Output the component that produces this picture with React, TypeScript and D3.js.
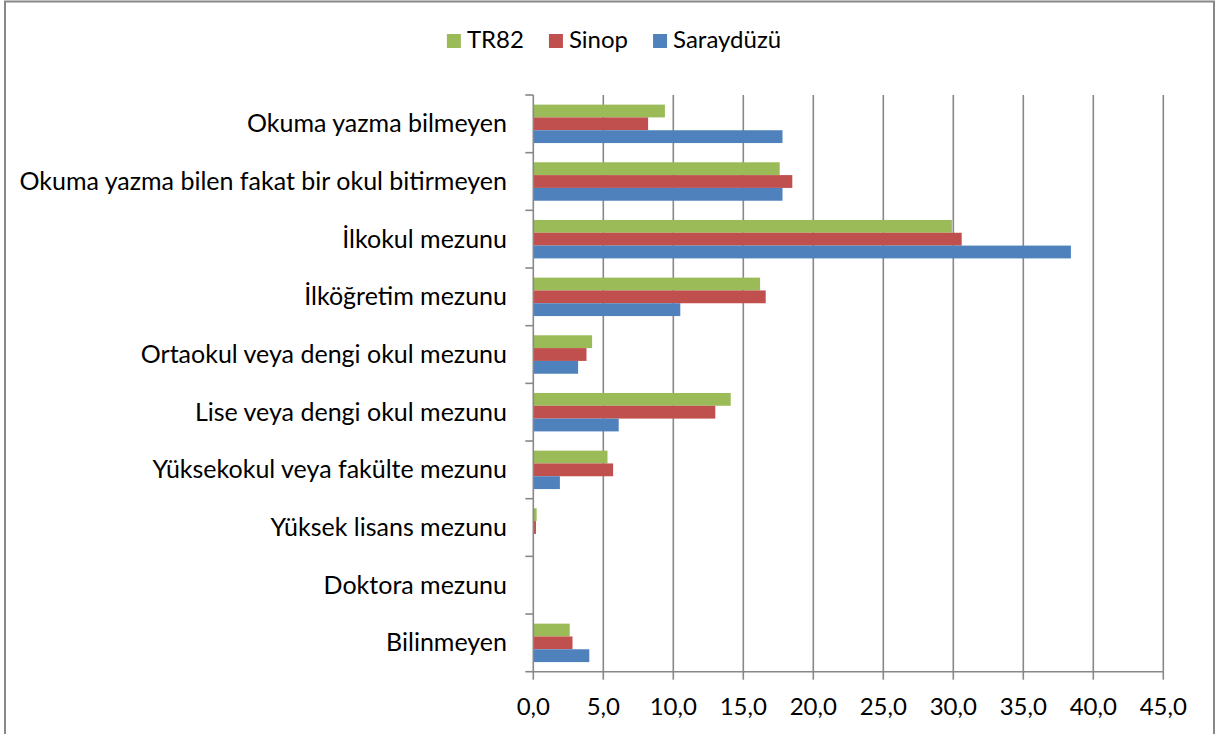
// @ts-nocheck
import React, { useEffect, useRef } from "react";
import * as d3 from "d3";

const categories = [
  "Okuma yazma bilmeyen",
  "Okuma yazma bilen fakat bir okul bitirmeyen",
  "İlkokul mezunu",
  "İlköğretim mezunu",
  "Ortaokul veya dengi okul mezunu",
  "Lise veya dengi okul mezunu",
  "Yüksekokul veya fakülte mezunu",
  "Yüksek lisans mezunu",
  "Doktora mezunu",
  "Bilinmeyen",
];

const seriesNames = ["TR82", "Sinop", "Saraydüzü"];
const seriesColors = ["#9BBB59", "#C0504D", "#4F81BD"];

const tr82 = [9.4, 17.6, 29.9, 16.2, 4.2, 14.1, 5.3, 0.24, 0.0, 2.6];
const sinop = [8.2, 18.5, 30.6, 16.6, 3.8, 13.0, 5.7, 0.19, 0.0, 2.8];
const saraydozu = [17.8, 17.8, 38.4, 10.5, 3.2, 6.1, 1.9, 0.0, 0.0, 4.0];

const xTicks = [0, 5, 10, 15, 20, 25, 30, 35, 40, 45];

const FONT = "Lato, 'Open Sans', sans-serif";

export default function App() {
  const svgRef = useRef(null);

  useEffect(() => {
    const svg = d3.select(svgRef.current);
    svg.selectAll("*").remove();

    const width = 1223;
    const height = 734;
    const margin = { top: 95, left: 533.3, right: 1163.3, bottom: 671.7 };
    const gridColor = "#888888";

    // chart frame
    svg.append("rect")
      .attr("x", 5)
      .attr("y", 1.5)
      .attr("width", 1209)
      .attr("height", 745)
      .attr("fill", "#fff")
      .attr("stroke", gridColor)
      .attr("stroke-width", 2);

    const x = d3.scaleLinear().domain([0, 45]).range([margin.left, margin.right]);
    const y = d3.scaleBand().domain(categories).range([margin.top, margin.bottom]).paddingInner(0).paddingOuter(0);
    const bw = y.bandwidth();
    // gap width 150%: three bars take 2/3 of each band
    const ySeries = d3.scaleBand().domain(seriesNames).range([bw / 6, (bw * 5) / 6]).padding(0);

    // vertical gridlines
    svg.append("g")
      .selectAll("line")
      .data(xTicks.slice(1))
      .join("line")
      .attr("x1", d => x(d))
      .attr("x2", d => x(d))
      .attr("y1", margin.top)
      .attr("y2", margin.bottom)
      .attr("stroke", gridColor)
      .attr("stroke-width", 1.6);

    // bars
    const values = [tr82, sinop, saraydozu];
    seriesNames.forEach((name, si) => {
      svg.append("g")
        .selectAll("rect")
        .data(categories.map((c, i) => ({ c, v: values[si][i] })))
        .join("rect")
        .attr("x", x(0))
        .attr("y", d => y(d.c) + ySeries(name))
        .attr("width", d => x(d.v) - x(0))
        .attr("height", ySeries.bandwidth())
        .attr("fill", seriesColors[si]);
    });

    // y axis
    const yAxis = svg.append("g");
    yAxis.append("line")
      .attr("x1", margin.left)
      .attr("x2", margin.left)
      .attr("y1", margin.top)
      .attr("y2", margin.bottom)
      .attr("stroke", gridColor)
      .attr("stroke-width", 1.6);
    const boundaries = categories.map(c => y(c)).concat([margin.bottom]);
    yAxis.selectAll(".tick")
      .data(boundaries)
      .join("line")
      .attr("x1", margin.left - 8)
      .attr("x2", margin.left)
      .attr("y1", d => d)
      .attr("y2", d => d)
      .attr("stroke", gridColor)
      .attr("stroke-width", 1.6);
    yAxis.selectAll("text")
      .data(categories)
      .join("text")
      .attr("x", 507)
      .attr("y", d => y(d) + bw / 2 + 8.5)
      .attr("text-anchor", "end")
      .attr("font-family", FONT)
      .attr("font-size", 25)
      .attr("fill", "#000")
      .text(d => d);

    // x axis
    const xAxis = svg.append("g");
    xAxis.append("line")
      .attr("x1", margin.left)
      .attr("x2", margin.right)
      .attr("y1", margin.bottom)
      .attr("y2", margin.bottom)
      .attr("stroke", gridColor)
      .attr("stroke-width", 1.6);
    xAxis.selectAll(".tick")
      .data(xTicks)
      .join("line")
      .attr("x1", d => x(d))
      .attr("x2", d => x(d))
      .attr("y1", margin.bottom)
      .attr("y2", margin.bottom + 8)
      .attr("stroke", gridColor)
      .attr("stroke-width", 1.6);
    xAxis.selectAll("text")
      .data(xTicks)
      .join("text")
      .attr("x", d => x(d))
      .attr("y", 715)
      .attr("text-anchor", "middle")
      .attr("font-family", FONT)
      .attr("font-size", 24)
      .attr("fill", "#000")
      .text(d => d3.format(".1f")(d).replace(".", ","));

    // legend
    const legend = svg.append("g");
    let cursor = 0;
    seriesNames.forEach((name, i) => {
      const item = legend.append("g").attr("transform", `translate(${cursor},0)`);
      item.append("rect")
        .attr("x", 0)
        .attr("y", 34)
        .attr("width", 14)
        .attr("height", 14)
        .attr("fill", seriesColors[i]);
      const t = item.append("text")
        .attr("x", 20)
        .attr("y", 48.3)
        .attr("font-family", FONT)
        .attr("font-size", 24)
        .attr("fill", "#000")
        .text(name);
      const w = t.node().getComputedTextLength();
      cursor += 20 + w + 25;
    });
    const legendWidth = cursor - 25;
    legend.attr("transform", `translate(${614 - legendWidth / 2},0)`);

    svg.attr("viewBox", `0 0 ${width} ${height}`);
  }, []);

  return (
    <svg
      ref={svgRef}
      width={1223}
      height={734}
      style={{ position: "absolute", left: 0, top: 0, background: "#fff" }}
    />
  );
}
